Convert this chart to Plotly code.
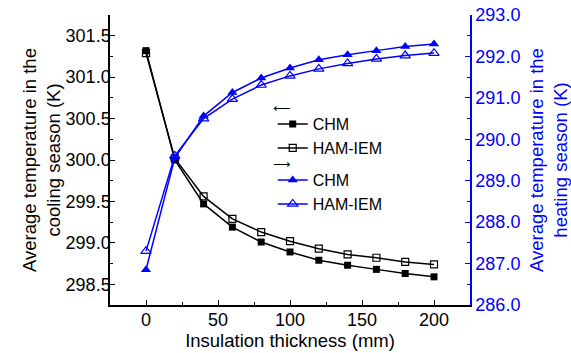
import plotly.graph_objects as go

thickness = [0, 20, 40, 60, 80, 100, 120, 140, 160, 180, 200]
cool_chm = [301.32, 300.00, 299.47, 299.19, 299.01, 298.89, 298.79, 298.73, 298.68, 298.63, 298.59]
cool_ham = [301.29, 300.02, 299.56, 299.29, 299.13, 299.02, 298.93, 298.86, 298.82, 298.77, 298.74]
heat_chm = [286.85, 289.55, 290.56, 291.13, 291.48, 291.72, 291.92, 292.04, 292.14, 292.24, 292.30]
heat_ham = [287.30, 289.60, 290.50, 290.97, 291.31, 291.53, 291.70, 291.83, 291.94, 292.02, 292.08]
legend_arrows = ["⟵", "⟶"]

BLUE = "#0000ff"
FONT = "Liberation Sans, Arial, sans-serif"

fig = go.Figure()
fig.add_trace(go.Scatter(x=thickness, y=cool_chm, name="CHM", mode="lines+markers",
                         line=dict(color="black", width=1.5),
                         marker=dict(symbol="square", size=7, color="black"),
                         legend="legend"))
fig.add_trace(go.Scatter(x=thickness, y=cool_ham, name="HAM-IEM", mode="lines+markers",
                         line=dict(color="black", width=1.5),
                         marker=dict(symbol="square-open", size=7, color="black", line=dict(width=1.2)),
                         legend="legend"))
fig.add_trace(go.Scatter(x=thickness, y=heat_chm, name="CHM", mode="lines+markers", yaxis="y2",
                         line=dict(color=BLUE, width=1.5),
                         marker=dict(symbol="triangle-up", size=9, color=BLUE),
                         legend="legend2"))
fig.add_trace(go.Scatter(x=thickness, y=heat_ham, name="HAM-IEM", mode="lines+markers", yaxis="y2",
                         line=dict(color=BLUE, width=1.5),
                         marker=dict(symbol="triangle-up-open", size=9, color=BLUE, line=dict(width=1.2)),
                         legend="legend2"))

fig.update_layout(
    width=571, height=353,
    margin=dict(l=110, r=101, t=15, b=48, autoexpand=False),
    paper_bgcolor="white", plot_bgcolor="white",
    font=dict(family=FONT, size=18, color="black"),
    xaxis=dict(range=[-25, 225], tickvals=[0, 50, 100, 150, 200], ticks="inside", ticklen=5,
               tickcolor="black", showline=True, linecolor="black", linewidth=1.5,
               showgrid=False, zeroline=False, automargin=True, ticklabelstandoff=-2,
               minor=dict(tickvals=[-25, 25, 75, 125, 175, 225], ticks="inside", ticklen=3, tickcolor="black"),
               title=dict(text="Insulation thickness (mm)", font=dict(size=18.5), standoff=0),
               tickfont=dict(size=18)),
    xaxis2=dict(range=[-25, 225], overlaying="x", side="top", matches="x",
                tickvals=[0, 50, 100, 150, 200], ticks="inside", ticklen=5, tickcolor=BLUE,
                showticklabels=False, showline=True, linecolor=BLUE, linewidth=1.5,
                showgrid=False, zeroline=False, automargin=False,
                minor=dict(tickvals=[-25, 25, 75, 125, 175, 225], ticks="inside", ticklen=3, tickcolor=BLUE)),
    yaxis=dict(range=[298.25, 301.75], dtick=0.5, tick0=298.5, tickformat=".1f", ticks="inside",
               ticklen=5, tickcolor="black", showline=True, linecolor="black", linewidth=1.5,
               showgrid=False, zeroline=False, automargin=True, ticklabelstandoff=-6,
               minor=dict(dtick=0.25, ticks="inside", ticklen=3, tickcolor="black"),
               title=dict(text="Average temperature in the<br>cooling season (K)", font=dict(size=18.5),
                          standoff=0),
               tickfont=dict(size=18)),
    yaxis2=dict(range=[286, 293], dtick=1, tick0=286, tickformat=".1f", overlaying="y", side="right",
                ticks="inside", ticklen=5, tickcolor=BLUE, showline=True, linecolor=BLUE, linewidth=1.5,
                showgrid=False, zeroline=False, automargin=True,
                minor=dict(dtick=0.5, ticks="inside", ticklen=3, tickcolor=BLUE),
                tickfont=dict(size=18, color=BLUE),
                title=dict(text="Average temperature in the<br>heating season (K)",
                           font=dict(size=18.5, color=BLUE), standoff=11)),
    legend=dict(x=0.452, y=0.682, xanchor="left", yanchor="top", bgcolor="rgba(0,0,0,0)",
                font=dict(size=16), tracegroupgap=0),
    legend2=dict(x=0.452, y=0.489, xanchor="left", yanchor="top", bgcolor="rgba(0,0,0,0)",
                 font=dict(size=16), tracegroupgap=0),
    annotations=[
        dict(text=legend_arrows[0], xref="paper", yref="paper", x=0.475, y=0.68,
             xanchor="center", yanchor="middle", showarrow=False,
             font=dict(family="DejaVu Sans", size=12, color="black")),
        dict(text=legend_arrows[1], xref="paper", yref="paper", x=0.475, y=0.486,
             xanchor="center", yanchor="middle", showarrow=False,
             font=dict(family="DejaVu Sans", size=12, color="black")),
    ],
)

fig.write_html("out.html")
